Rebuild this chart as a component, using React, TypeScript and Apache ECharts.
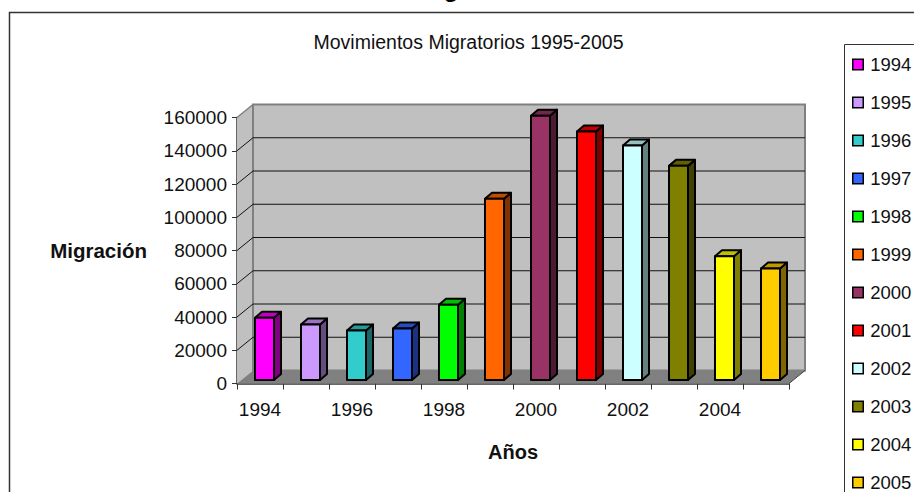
import React, { useEffect, useRef } from "react";
import * as echarts from "echarts";

const years = ["1994", "1995", "1996", "1997", "1998", "1999", "2000", "2001", "2002", "2003", "2004", "2005"];
const migration = [37400, 33400, 29800, 31000, 45300, 109000, 159000, 149500, 141000, 128800, 74500, 67000];
const yTicks = [0, 20000, 40000, 60000, 80000, 100000, 120000, 140000, 160000];
const faceColors = ["#FF00FF", "#CC99FF", "#33CCCC", "#3366FF", "#00FF00", "#FF6600", "#993366", "#FF0000", "#CCFFFF", "#808000", "#FFFF00", "#FFCC00"];

const FONT = "Liberation Sans, Arial, sans-serif";
const WALL_DX = 16;
const WALL_DY = -13;

function shade(hex: string, k: number) {
  const n = parseInt(hex.slice(1), 16);
  const c = [(n >> 16) & 255, (n >> 8) & 255, n & 255].map((v) => Math.round(v * k));
  return `rgb(${c[0]},${c[1]},${c[2]})`;
}

function renderWalls(_p: any, api: any) {
  const first = api.coord([0, 0]);
  const band = api.size([1, 0])[0];
  const last = api.coord([years.length - 1, 0]);
  const top = api.coord([0, yTicks[yTicks.length - 1]]);
  const x0 = first[0] - band / 2;
  const x1 = last[0] + band / 2;
  const y0 = first[1];
  const y1 = top[1];
  const edge = { stroke: "#808080", lineWidth: 1.5, fill: "none" };
  return {
    type: "group",
    children: [
      { type: "polygon", shape: { points: [[x0, y1], [x0 + WALL_DX, y1 + WALL_DY], [x0 + WALL_DX, y0 + WALL_DY], [x0, y0]] }, style: { fill: "#C0C0C0", stroke: "none" } },
      { type: "polygon", shape: { points: [[x0 + WALL_DX, y1 + WALL_DY], [x1 + WALL_DX, y1 + WALL_DY], [x1 + WALL_DX, y0 + WALL_DY], [x0 + WALL_DX, y0 + WALL_DY]] }, style: { fill: "#C0C0C0", stroke: "#808080", lineWidth: 2 } },
      { type: "polygon", shape: { points: [[x0, y0], [x0 + WALL_DX, y0 + WALL_DY], [x1 + WALL_DX, y0 + WALL_DY], [x1, y0]] }, style: { fill: "#808080", stroke: "none" } },
      { type: "line", shape: { x1: x0, y1: y1, x2: x0 + WALL_DX, y2: y1 + WALL_DY }, style: edge },
      { type: "line", shape: { x1: x1, y1: y0, x2: x1 + WALL_DX, y2: y0 + WALL_DY }, style: { stroke: "#404040", lineWidth: 1 } },
    ],
  };
}

function renderGrid(_p: any, api: any) {
  const v = api.value(0);
  const first = api.coord([0, v]);
  const band = api.size([1, 0])[0];
  const last = api.coord([years.length - 1, v]);
  const x0 = first[0] - band / 2;
  const x1 = last[0] + band / 2;
  const y = first[1];
  const line = { stroke: "#111", lineWidth: 1 };
  return {
    type: "group",
    children: [
      { type: "line", shape: { x1: x0, y1: y, x2: x0 + WALL_DX, y2: y + WALL_DY }, style: line },
      { type: "line", shape: { x1: x0 + WALL_DX, y1: y + WALL_DY, x2: x1 + WALL_DX, y2: y + WALL_DY }, style: line },
    ],
  };
}

function renderBar(face: string) {
  return (_p: any, api: any) => {
    const i = api.value(0);
    const base = api.coord([i, 0]);
    const tip = api.coord([i, api.value(1)]);
    const w = 19;
    const dx = 7;
    const dy = -6;
    const l = base[0] + 4.5 - w / 2;
    const r = l + w;
    const b = base[1] - 3.5;
    const t = tip[1] - 3.5;
    const stroke = { stroke: "#000", lineWidth: 2, lineJoin: "round" };
    return {
      type: "group",
      children: [
        { type: "polygon", shape: { points: [[r, t], [r + dx, t + dy], [r + dx, b + dy], [r, b]] }, style: { fill: shade(face, 0.5), ...stroke } },
        { type: "polygon", shape: { points: [[l, t], [l + dx, t + dy], [r + dx, t + dy], [r, t]] }, style: { fill: shade(face, 0.75), ...stroke } },
        { type: "rect", shape: { x: l, y: t, width: w, height: b - t }, style: { fill: face, ...stroke } },
      ],
    };
  };
}

export default function App() {
  const ref = useRef<HTMLDivElement>(null);
  useEffect(() => {
    const chart = echarts.init(ref.current!, undefined, { renderer: "svg" });
    chart.setOption({
      animation: false,
      backgroundColor: "#fff",
      textStyle: { fontFamily: FONT },
      title: [
        { text: "Migración", left: 417, top: -24, padding: 0, textStyle: { fontFamily: FONT, fontSize: 24, fontWeight: "bold", color: "#000" } },
        { text: "Movimientos Migratorios 1995-2005", left: 468.5, top: 32, padding: 0, textAlign: "center", textStyle: { fontFamily: FONT, fontSize: 19.5, fontWeight: "normal", color: "#111" } },
      ],
      graphic: [
        { type: "rect", z: -1, silent: true, shape: { x: 9.5, y: 12.5, width: 1000, height: 1000 }, style: { fill: "#fff", stroke: "#333", lineWidth: 1.5 } },
        { type: "rect", z: -1, silent: true, shape: { x: 844.5, y: 44.5, width: 200, height: 600 }, style: { fill: "#fff", stroke: "#333", lineWidth: 1 } },
      ],
      legend: {
        orient: "vertical",
        left: 852,
        top: 55,
        height: 700,
        padding: 0,
        icon: "rect",
        itemWidth: 10.5,
        itemHeight: 10.5,
        itemGap: 19,
        data: years,
        selectedMode: false,
        itemStyle: { borderColor: "#000", borderWidth: 1.5 },
        textStyle: { fontFamily: FONT, fontSize: 18.5, color: "#111", padding: [0, 0, 0, 2] },
      },
      grid: { left: 237, top: 117.5, width: 552, height: 266 },
      xAxis: {
        type: "category",
        data: years,
        name: "Años",
        nameLocation: "middle",
        nameGap: 58,
        nameTextStyle: { fontFamily: FONT, fontSize: 20, fontWeight: "bold", color: "#111" },
        axisLine: { lineStyle: { color: "#333", width: 1.5 } },
        axisTick: { show: true, interval: 0, length: 6, alignWithLabel: false, lineStyle: { color: "#333", width: 1 } },
        axisLabel: { interval: 1, margin: 16, fontFamily: FONT, fontSize: 19, color: "#111" },
        splitLine: { show: false },
      },
      yAxis: {
        type: "value",
        min: 0,
        max: 160000,
        interval: 20000,
        name: "Migración",
        nameLocation: "middle",
        nameRotate: 0,
        nameGap: 90,
        nameTextStyle: { fontFamily: FONT, fontSize: 20.5, fontWeight: "bold", color: "#111" },
        axisLine: { show: true, lineStyle: { color: "#333", width: 1.5 } },
        axisTick: { show: true, length: 5, lineStyle: { color: "#333", width: 1 } },
        axisLabel: { margin: 10, fontFamily: FONT, fontSize: 19, color: "#111", formatter: (v: number) => String(v) },
        splitLine: { show: false },
      },
      series: [
        { type: "custom", name: "walls", silent: true, z: 1, data: [0], encode: { y: 0 }, renderItem: renderWalls },
        { type: "custom", name: "grid", silent: true, z: 2, data: yTicks.slice(1, -1), encode: { y: 0 }, renderItem: renderGrid },
        ...years.map((y, i) => ({
          type: "custom",
          name: y,
          z: 3,
          itemStyle: { color: faceColors[i] },
          data: [[i, migration[i]]],
          encode: { x: 0, y: 1 },
          renderItem: renderBar(faceColors[i]),
        })),
      ],
    });
    return () => chart.dispose();
  }, []);
  return <div ref={ref} style={{ position: "fixed", left: 0, top: 0, width: 914, height: 492 }} />;
}
